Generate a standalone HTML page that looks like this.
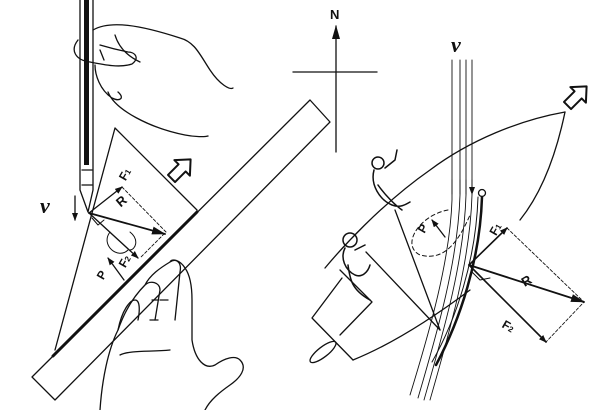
<!DOCTYPE html>
<html><head><meta charset="utf-8"><style>html,body{margin:0;padding:0;background:#fff}svg{display:block}</style></head>
<body>
<svg width="600" height="410" viewBox="0 0 600 410" xmlns="http://www.w3.org/2000/svg" fill="none" stroke="#111" stroke-width="1.3" stroke-linecap="round" stroke-linejoin="round" font-family="Liberation Sans, sans-serif">
<defs>
<marker id="a" markerWidth="8" markerHeight="6" refX="7" refY="3" orient="auto" markerUnits="userSpaceOnUse"><path d="M0,0 L8,3 L0,6 z" fill="#111" stroke="none"/></marker>
<marker id="b" markerWidth="14" markerHeight="8" refX="13" refY="4" orient="auto" markerUnits="userSpaceOnUse"><path d="M0,0 L14,4 L0,8 z" fill="#111" stroke="none"/></marker>
</defs>
<!-- LEFT -->
<!-- ruler -->
<polygon points="32,377 310,100 330,122 55,400"/>
<line x1="53" y1="356" x2="197" y2="212" stroke-width="3"/>
<!-- triangle -->
<polyline points="197,210 115,128 55,350"/>
<!-- pencil -->
<path d="M80,0 L80,190 L88,212 L93,190 L93,0" stroke-width="1.3"/>
<rect x="84" y="0" width="5" height="165" fill="#111" stroke="none"/>
<line x1="82" y1="170" x2="92" y2="170"/>
<line x1="82" y1="185" x2="92" y2="185"/>
<!-- top hand -->
<path d="M93,30 C110,20 140,25 180,38 C195,42 200,55 210,70 C220,85 230,90 233,88"/>
<path d="M78,40 C70,50 75,60 90,62 C105,65 120,68 132,64 C140,58 135,52 128,52 C118,50 110,48 100,45"/>
<path d="M95,65 C95,75 100,90 112,98 C120,102 125,98 118,92 M108,92 C115,110 150,128 185,135 C195,137 205,137 208,136"/>
<path d="M115,35 C118,45 125,55 140,62 M100,50 L104,60"/>
<!-- bottom hand -->
<path d="M100,410 C102,380 108,350 118,330 C125,310 135,295 145,285 C150,280 160,282 160,290 L155,320 M145,285 C150,275 160,268 170,262 C176,258 182,262 180,272 L175,320 M170,262 C172,258 180,260 185,268 C190,275 192,285 192,300 L192,340 C195,360 205,370 215,365 C225,358 235,355 240,360 C248,368 240,378 230,385 C220,392 210,400 205,410"/>
<path d="M118,330 C122,310 130,300 135,300 C140,300 140,310 138,320 M152,300 L158,300 M160,300 L168,300 M150,320 L158,320 M120,355 C130,350 150,352 170,350"/>
<!-- vectors left -->
<line x1="89" y1="213" x2="122" y2="187" marker-end="url(#a)"/>
<line x1="89" y1="213" x2="165" y2="234" stroke-width="1.8" marker-end="url(#b)"/>
<line x1="89" y1="213" x2="138" y2="258" marker-end="url(#a)"/>
<polyline points="122,187 166,232 140,258" stroke-dasharray="3,2" stroke-width="0.9"/>
<path d="M110,232 C100,245 118,260 128,250 M130,232 C140,240 135,250 130,250" stroke-width="1"/>
<path d="M92,218 L98,225 L104,220" stroke-width="1"/>
<text x="40" y="213" font-family="Liberation Serif, serif" font-style="italic" font-weight="bold" font-size="22" fill="#111" stroke="none">v</text>
<line x1="75" y1="196" x2="75" y2="220" marker-end="url(#a)"/>
<text x="116" y="205" font-weight="bold" font-size="13" fill="#111" stroke="none" transform="rotate(-40 122 200)">R</text>
<text x="120" y="180" font-weight="bold" font-size="12" fill="#111" stroke="none" transform="rotate(-60 124 176)">F<tspan font-size="8">1</tspan></text>
<text x="118" y="268" font-weight="bold" font-size="12" fill="#111" stroke="none" transform="rotate(-60 122 262)">F<tspan font-size="8">2</tspan></text>
<text x="96" y="280" font-weight="bold" font-size="12" fill="#111" stroke="none" transform="rotate(-60 100 274)">P</text>
<line x1="124" y1="280" x2="108" y2="258" marker-end="url(#a)"/>
<!-- hollow arrow left -->
<g transform="translate(180,170) rotate(45)"><polygon points="0,-15 11,-3 5,-3 5,12 -5,12 -5,-3 -11,-3" stroke-width="2"/></g>
<!-- RIGHT -->
<text x="330" y="19" font-weight="bold" font-size="13" fill="#111" stroke="none">N</text>
<line x1="336" y1="152" x2="336" y2="26" marker-end="url(#b)" stroke-width="1.3"/>
<line x1="293" y1="72" x2="377" y2="72"/>
<text x="451" y="52" font-family="Liberation Serif, serif" font-style="italic" font-weight="bold" font-size="22" fill="#111" stroke="none">v</text>
<!-- hull -->
<path d="M565,112 C520,120 470,140 430,170 C380,205 340,250 325,268"/>
<path d="M565,112 C555,160 540,195 520,220"/>
<path d="M470,290 C430,320 390,345 353,360"/>
<polyline points="342,278 312,318 353,360"/>
<polyline points="340,270 372,302 340,335"/>
<ellipse cx="323" cy="352" rx="16" ry="5" transform="rotate(-38 323 352)"/>
<!-- streamlines -->
<path d="M452,60 L452,200 C450,260 430,330 410,395" stroke-width="0.9"/>
<path d="M460,60 L460,195 C458,260 438,330 418,398" stroke-width="0.9"/>
<path d="M466,60 L466,195 C464,262 444,330 424,400" stroke-width="0.9"/>
<path d="M472,60 L472,195 C470,262 450,330 430,400" stroke-width="0.9"/>
<path d="M452,180 l0,14 M460,180 l0,14 M466,180 l0,14 M472,180 l0,14" marker-end="url(#a)" stroke-width="0.9"/>
<!-- sail/mast -->
<circle cx="482" cy="193" r="3.5"/>
<path d="M482,197 C480,260 460,320 436,365" stroke-width="2.5"/>
<path d="M478,197 C476,260 456,320 432,362" stroke-width="1"/>
<!-- sheets -->
<line x1="440" y1="330" x2="395" y2="210"/>
<line x1="440" y1="330" x2="366" y2="252"/>
<path d="M448,210 C420,215 400,245 420,255 C440,260 455,250 470,215" stroke-dasharray="4,3" stroke-width="1"/>
<line x1="445" y1="237" x2="432" y2="220" marker-end="url(#a)"/>
<text x="418" y="233" font-weight="bold" font-size="12" fill="#111" stroke="none" transform="rotate(-60 422 228)">P</text>
<!-- sailors -->
<path d="M372,163 a6,6 0 1,1 12,0 a6,6 0 1,1 -12,0 M374,170 C370,185 380,200 392,205 C400,208 405,205 410,202 M385,168 L395,160 L397,150 M378,185 C385,195 395,205 402,210" stroke-width="1.5"/>
<path d="M343,240 a7,7 0 1,1 14,0 a7,7 0 1,1 -14,0 M345,248 C340,258 345,270 355,275 C362,278 368,272 370,265 M355,250 L365,245 M348,265 C350,280 352,290 370,300" stroke-width="1.5"/>
<!-- forces right -->
<line x1="469" y1="265" x2="507" y2="228" stroke-width="1.6" marker-end="url(#a)"/>
<line x1="469" y1="265" x2="584" y2="302" stroke-width="1.8" marker-end="url(#b)"/>
<line x1="469" y1="265" x2="546" y2="342" stroke-width="1.6" marker-end="url(#a)"/>
<polyline points="507,228 584,302 546,342" stroke-dasharray="3,2" stroke-width="0.9"/>
<path d="M472,272 L480,280 L490,278" stroke-width="1"/>
<text x="522" y="285" font-weight="bold" font-size="13" fill="#111" stroke="none" transform="rotate(-30 527 281)">R</text>
<text x="490" y="234" font-weight="bold" font-size="12" fill="#111" stroke="none" transform="rotate(-60 495 230)">F<tspan font-size="8">1</tspan></text>
<text x="503" y="330" font-weight="bold" font-size="12" fill="#111" stroke="none" transform="rotate(30 508 325)">F<tspan font-size="8">2</tspan></text>
<g transform="translate(576,97) rotate(45)"><polygon points="0,-15 11,-3 5,-3 5,12 -5,12 -5,-3 -11,-3" stroke-width="2"/></g>
</svg>
</body></html>
